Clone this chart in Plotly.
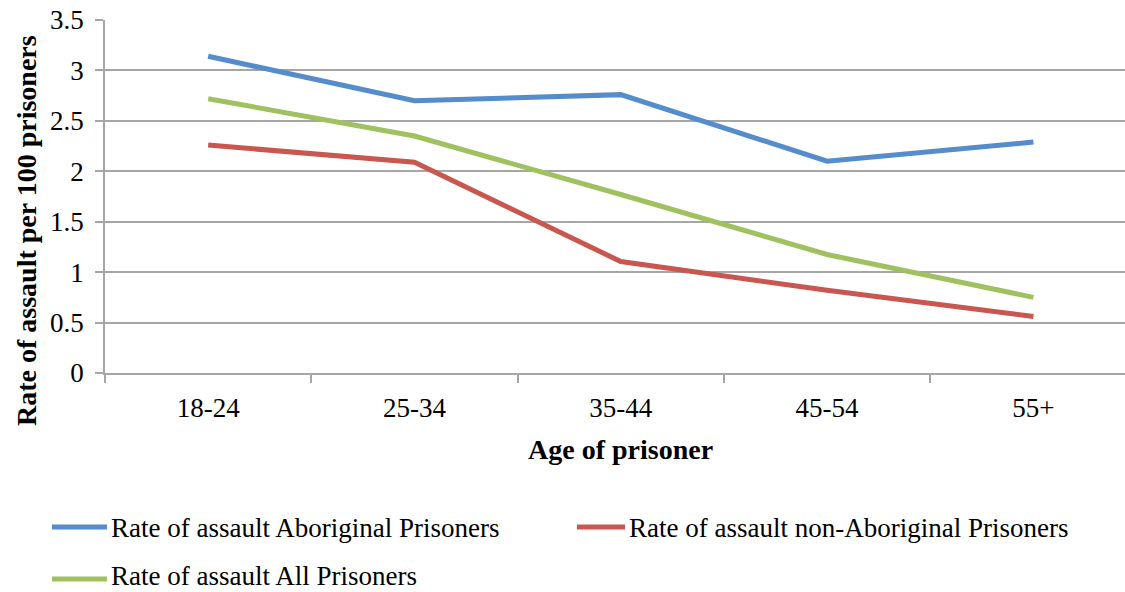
import plotly.graph_objects as go

# Age groups and assault rates per 100 prisoners
age_groups = ["18-24", "25-34", "35-44", "45-54", "55+"]
aboriginal = [3.14, 2.70, 2.76, 2.10, 2.29]
non_aboriginal = [2.26, 2.09, 1.105, 0.82, 0.56]
all_prisoners = [2.72, 2.35, 1.77, 1.175, 0.75]

series_names = [
    "Rate of assault Aboriginal Prisoners",
    "Rate of assault non-Aboriginal Prisoners",
    "Rate of assault All Prisoners",
]
series_values = [aboriginal, non_aboriginal, all_prisoners]
series_colors = ["#558ccb", "#c9564f", "#9fc160"]

y_ticks = [0, 0.5, 1, 1.5, 2, 2.5, 3, 3.5]
y_tick_text = ["0", "0.5", "1", "1.5", "2", "2.5", "3", "3.5"]

W, H = 1125, 592
L, R, T, B = 105, 0, 20, 219
FONT = "Liberation Serif"
GRID = "#a6a6a6"
TICK_SIZE = 27
TITLE_SIZE = 28


def px_to_paper(x, y):
    return (x - L) / (W - L - R), (H - B - y) / (H - T - B)


fig = go.Figure()
for name, vals, col in zip(series_names, series_values, series_colors):
    fig.add_trace(go.Scatter(
        x=age_groups, y=vals, name=name, mode="lines",
        line=dict(color=col, width=5), showlegend=False,
    ))

# Legend drawn as line samples with labels, two rows
legend_items = [
    (52, 107, 527),
    (577, 625, 527),
    (52, 107, 579),
]
annotations = []
shapes = []
for (x0, x1, y), name, col in zip(legend_items, series_names, series_colors):
    p0 = px_to_paper(x0, y)
    p1 = px_to_paper(x1, y)
    shapes.append(dict(type="line", xref="paper", yref="paper",
                       x0=p0[0], y0=p0[1], x1=p1[0], y1=p1[1],
                       line=dict(color=col, width=5)))
    if y > 560:
        # bottom row sits against the lower edge of the page
        tx, ty = px_to_paper(x1 + 3, H)
        anchor = "bottom"
    else:
        tx, ty = px_to_paper(x1 + 3, y + 1)
        anchor = "middle"
    annotations.append(dict(xref="paper", yref="paper", x=tx, y=ty,
                            text=name, showarrow=False, xanchor="left",
                            yanchor=anchor, borderpad=0,
                            font=dict(family=FONT, size=TICK_SIZE, color="#000")))

ax, ay = px_to_paper(620, 449)
annotations.append(dict(xref="paper", yref="paper", x=ax, y=ay,
                        text="<b>Age of prisoner</b>", showarrow=False,
                        xanchor="center", yanchor="middle",
                        font=dict(family=FONT, size=TITLE_SIZE, color="#000")))
yx, yy = px_to_paper(26, 231)
annotations.append(dict(xref="paper", yref="paper", x=yx, y=yy,
                        text="<b>Rate of assault per 100 prisoners</b>",
                        showarrow=False, textangle=-90,
                        xanchor="center", yanchor="middle",
                        font=dict(family=FONT, size=TITLE_SIZE, color="#000")))

fig.update_layout(
    width=W, height=H,
    margin=dict(l=L, r=R, t=T, b=B),
    paper_bgcolor="white", plot_bgcolor="white",
    font=dict(family=FONT, size=TICK_SIZE, color="#000"),
    xaxis=dict(
        type="category", range=[-0.5, 4.444],
        showline=True, linecolor=GRID, linewidth=1.5,
        ticks="outside", tickson="boundaries", ticklen=8,
        tickcolor=GRID, tickwidth=1.5,
        showgrid=False, zeroline=False,
        ticklabelstandoff=10,
        tickfont=dict(family=FONT, size=TICK_SIZE),
    ),
    yaxis=dict(
        range=[0, 3.5], tickvals=y_ticks, ticktext=y_tick_text,
        showline=True, linecolor=GRID, linewidth=1.5,
        ticks="outside", ticklen=8, tickcolor=GRID, tickwidth=1.5,
        showgrid=True, gridcolor=GRID, gridwidth=1.5,
        zeroline=False, ticklabelstandoff=6,
        tickfont=dict(family=FONT, size=TICK_SIZE),
    ),
    shapes=shapes,
    annotations=annotations,
)

fig.write_html("out.html")
